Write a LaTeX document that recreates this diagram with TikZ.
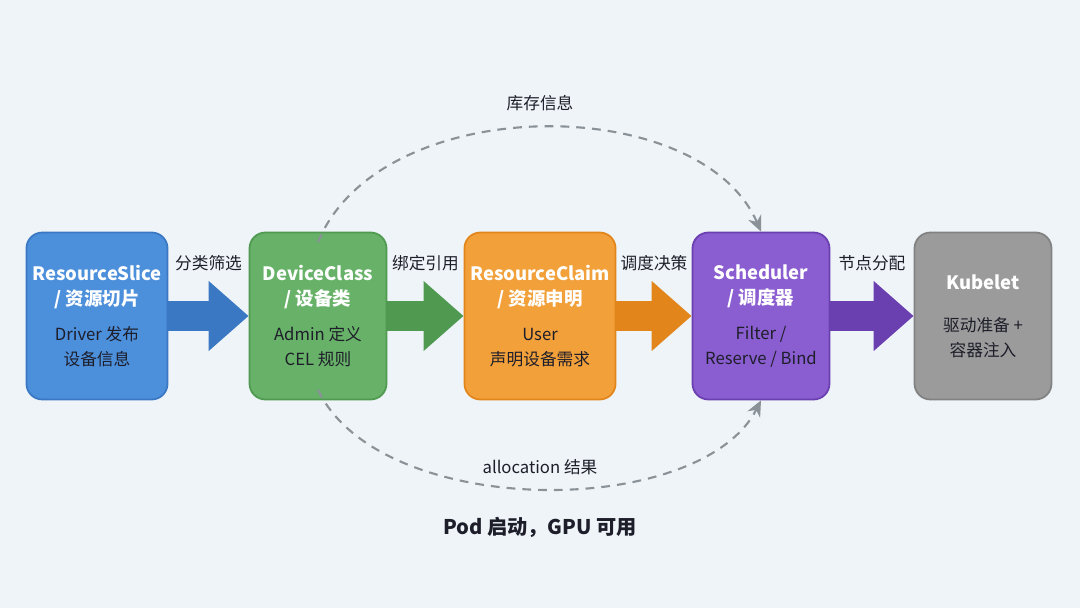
\documentclass[tikz,border=0pt]{standalone}
\usepackage{fontspec}
\setmainfont{Noto Sans CJK SC}
\usetikzlibrary{positioning, arrows.meta}
\definecolor{bgc}{HTML}{EEF4F8}
\definecolor{bluef}{HTML}{4C8FDB}
\definecolor{blued}{HTML}{3A78C4}
\definecolor{greenf}{HTML}{67B268}
\definecolor{greend}{HTML}{4F9A50}
\definecolor{orangef}{HTML}{F2A03A}
\definecolor{oranged}{HTML}{E2861C}
\definecolor{purplef}{HTML}{8A5ED0}
\definecolor{purpled}{HTML}{6A3FB0}
\definecolor{grayf}{HTML}{9B9B9B}
\definecolor{grayd}{HTML}{828282}
\definecolor{dashc}{HTML}{8A9298}
\definecolor{txt}{HTML}{1E1E2A}
\newcommand{\ttlfont}{\color{white}\bfseries\fontsize{10.5}{14}\selectfont}
\newcommand{\bodyfont}{\color{txt}\mdseries\fontsize{9.5}{12}\selectfont}
\begin{document}
\begin{tikzpicture}[x=0.02cm, y=-0.02cm,
  box/.style={draw, line width=1pt, rounded corners=9pt, minimum width=2.74cm,
    minimum height=3.34cm, align=center, font=\ttlfont},
  big/.style={line width=0.6cm, -{Triangle[length=0.8cm, width=1.35cm]}},
  flow/.style={dashc, line width=1.2pt, dash pattern=on 5pt off 4pt, -{Stealth[length=9pt, width=8pt]}},
  lbl/.style={text=txt, font=\fontsize{9.5}{12}\selectfont}]
\useasboundingbox[fill=bgc] (0,0) rectangle (1080,608);

\node[box, fill=bluef, draw=blued]     (slice) at (97,316)  {ResourceSlice\\/ 资源切片\\[6pt]\bodyfont Driver 发布\\\bodyfont 设备信息};
\node[box, fill=greenf, draw=greend]   (class) at (318,316) {DeviceClass\\/ 设备类\\[6pt]\bodyfont Admin 定义\\\bodyfont CEL 规则};
\node[box, fill=orangef, draw=oranged] (claim) at (540,316) {ResourceClaim\\/ 资源申明\\[6pt]\bodyfont User\\\bodyfont 声明设备需求};
\node[box, fill=purplef, draw=purpled] (sched) at (761,316) {Scheduler\\/ 调度器\\[6pt]\bodyfont Filter /\\\bodyfont Reserve / Bind};
\node[box, fill=grayf, draw=grayd]     (kube)  at (983,316) {Kubelet\\[10pt]\bodyfont 驱动准备 +\\\bodyfont 容器注入};

% block arrows
\draw[big, blued]   (slice.east) -- (class.west) node[lbl, midway, above=14pt] {分类筛选};
\draw[big, greend]  (class.east) -- (claim.west) node[lbl, midway, above=14pt] {绑定引用};
\draw[big, oranged] (claim.east) -- (sched.west) node[lbl, midway, above=14pt] {调度决策};
\draw[big, purpled] (sched.east) -- (kube.west)  node[lbl, midway, above=14pt] {节点分配};

% feedback loops
\draw[flow] ([yshift=-6]class.north) .. controls (380,91) and (700,91) .. (sched.north);
\draw[flow] ([yshift=6]class.south) .. controls (380,520) and (700,520) .. (sched.south);
\node[lbl] (stock) at (540,103) {库存信息};
\node[lbl] (alloc) at (540,467) {allocation 结果};
\node[text=txt, font=\bfseries\fontsize{11.5}{14}\selectfont] (pod) at (540,527) {Pod 启动，GPU 可用};
\end{tikzpicture}
\end{document}
